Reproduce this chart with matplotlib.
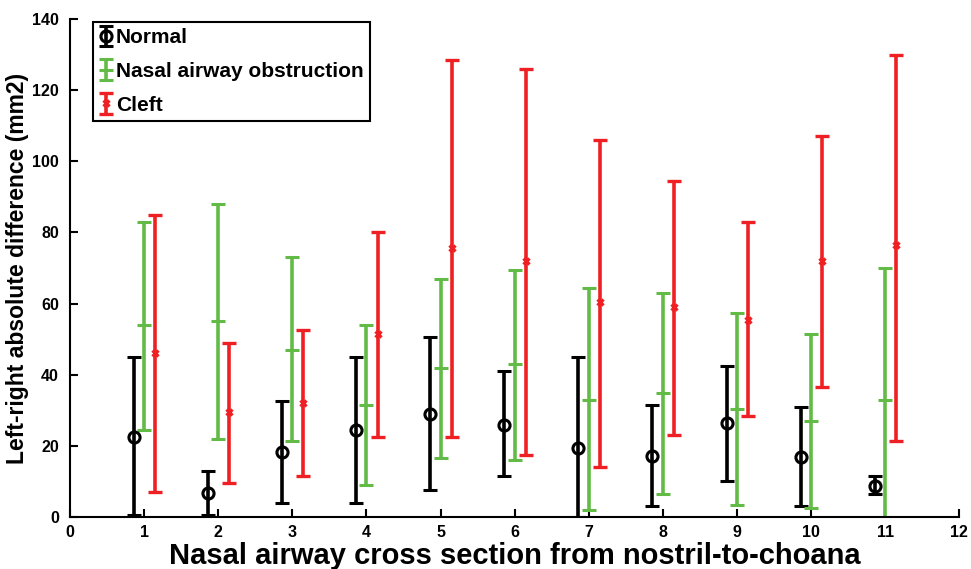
import matplotlib
matplotlib.use("Agg")
import matplotlib.pyplot as plt
import numpy as np

plt.rcParams['font.family'] = ['Liberation Sans', 'DejaVu Sans']
plt.rcParams['font.weight'] = 'bold'

sections = [1, 2, 3, 4, 5, 6, 7, 8, 9, 10, 11]

normal_mean = [22.5, 6.7, 18.3, 24.5, 29.0, 26.0, 19.5, 17.2, 26.5, 17.0, 8.8]
normal_low  = [0.5, 0.5, 4.0, 4.0, 7.5, 11.5, 0.0, 3.0, 10.0, 3.0, 6.5]
normal_high = [45.0, 13.0, 32.5, 45.0, 50.5, 41.0, 45.0, 31.5, 42.5, 31.0, 11.5]

nao_mean = [54.0, 55.0, 47.0, 31.5, 42.0, 43.0, 33.0, 35.0, 30.5, 27.0, 33.0]
nao_low  = [24.5, 22.0, 21.5, 9.0, 16.5, 16.0, 2.0, 6.5, 3.5, 2.5, 0.0]
nao_high = [83.0, 88.0, 73.0, 54.0, 67.0, 69.5, 64.5, 63.0, 57.5, 51.5, 70.0]

cleft_mean = [46.0, 29.5, 32.0, 51.5, 75.5, 72.0, 60.5, 59.0, 55.5, 72.0, 76.5]
cleft_low  = [7.0, 9.5, 11.5, 22.5, 22.5, 17.5, 14.0, 23.0, 28.5, 36.5, 21.5]
cleft_high = [85.0, 49.0, 52.5, 80.0, 128.5, 126.0, 106.0, 94.5, 83.0, 107.0, 130.0]

xticks = [0, 1, 2, 3, 4, 5, 6, 7, 8, 9, 10, 11, 12]
yticks = [0, 20, 40, 60, 80, 100, 120, 140]

fig = plt.figure(figsize=(9.71, 5.69), dpi=100)
ax = fig.add_axes([0.072, 0.0914, 0.916, 0.875])

x = np.array(sections, dtype=float)

def err(mean, low, high):
    m = np.array(mean); l = np.array(low); h = np.array(high)
    return m, np.vstack([m - l, h - m])

lw = 2.6
m, e = err(normal_mean, normal_low, normal_high)
ax.errorbar(x - 0.14, m, yerr=e, fmt='o', color='black', mfc='none', mec='black',
            ms=8, mew=2.2, elinewidth=lw, capsize=5, capthick=lw, label='Normal')
m, e = err(nao_mean, nao_low, nao_high)
ax.errorbar(x, m, yerr=e, fmt='_', color='#62bb46', ms=10, mew=2.2,
            elinewidth=lw, capsize=5, capthick=lw, label='Nasal airway obstruction')
m, e = err(cleft_mean, cleft_low, cleft_high)
ax.errorbar(x + 0.15, m, yerr=e, fmt='x', color='#ee2024', ms=5, mew=2.4,
            elinewidth=lw, capsize=5, capthick=lw, label='Cleft')

ax.set_xlim(0, 12)
ax.set_ylim(0, 140)
ax.set_xticks(xticks)
ax.set_yticks(yticks)
ax.tick_params(axis='x', direction='in', length=6, width=1.5, labelsize=11.5, pad=6)
ax.tick_params(axis='y', direction='in', length=6, width=1.5, labelsize=11.5, pad=8)
for lab in ax.get_xticklabels() + ax.get_yticklabels():
    lab.set_fontweight('bold')
ax.spines['top'].set_visible(False)
ax.spines['right'].set_visible(False)
ax.spines['left'].set_linewidth(1.5)
ax.spines['bottom'].set_linewidth(1.5)

ax.set_xlabel('Nasal airway cross section from nostril-to-choana', fontsize=21,
              fontweight='bold', labelpad=1)
ax.set_ylabel('Left-right absolute difference (mm2)', fontsize=16.5,
              fontweight='bold', labelpad=2)

leg = ax.legend(loc='upper left', bbox_to_anchor=(0.026, 0.994), fontsize=15,
                frameon=True, fancybox=False, framealpha=1, edgecolor='black',
                handlelength=0.6, handletextpad=0.2, borderpad=0.3, labelspacing=0.7,
                borderaxespad=0)
leg.get_frame().set_linewidth(1.5)
for t in leg.get_texts():
    t.set_fontweight('bold')

fig.savefig('out.png', dpi=100)
